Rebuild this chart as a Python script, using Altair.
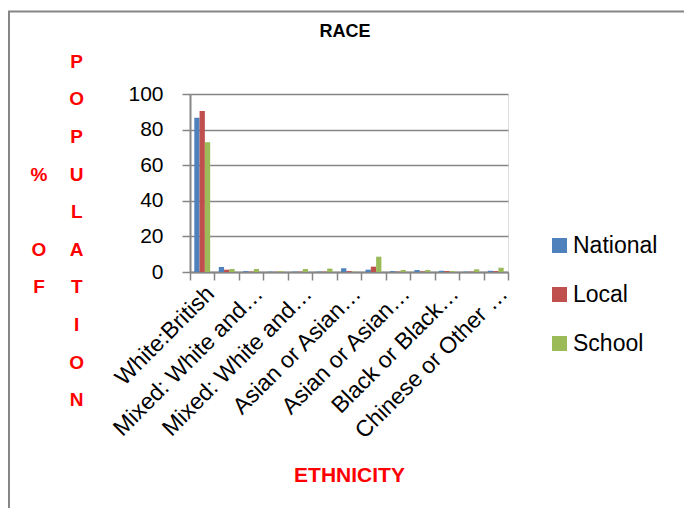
import altair as alt
import pandas as pd

categories = [
    "White:British",
    "White: Other",
    "Mixed: White and Black Caribbean",
    "Mixed: White and Black African",
    "Mixed: White and Asian",
    "Mixed: Other Mixed",
    "Asian or Asian British: Indian",
    "Asian or Asian British: Pakistani",
    "Asian or Asian British: Bangladeshi",
    "Asian or Asian British: Other Asian",
    "Black or Black British: Caribbean",
    "Black or Black British: African",
    "Chinese or Other Ethnic Group",
]
shown_labels = {
    "White:British": "White:British",
    "Mixed: White and Black Caribbean": "Mixed: White and\u2026",
    "Mixed: White and Asian": "Mixed: White and\u2026",
    "Asian or Asian British: Indian": "Asian or Asian\u2026",
    "Asian or Asian British: Bangladeshi": "Asian or Asian\u2026",
    "Black or Black British: Caribbean": "Black or Black\u2026",
    "Chinese or Other Ethnic Group": "Chinese or Other \u2026",
}
series = ["National", "Local", "School"]
national = [86.7, 2.8, 0.5, 0.2, 0.2, 0.2, 2.1, 1.3, 0.5, 1.1, 0.7, 0.2, 0.7]
local = [90.4, 1.3, 0.2, 0.1, 0.2, 0.2, 0.5, 3.0, 0.2, 0.3, 0.5, 0.2, 0.5]
school = [72.9, 1.7, 1.7, 0.5, 1.7, 1.9, 0.2, 8.6, 1.1, 1.1, 0.5, 1.5, 2.4]
colors = ["#4F81BD", "#C0504D", "#9BBB59"]
y_ticks = [0, 20, 40, 60, 80, 100]
y_title_col1 = ["", "", "", "%", "", "O", "F", "", "", ""]
y_title_col2 = ["P", "O", "P", "U", "L", "A", "T", "I", "O", "N"]

rows = []
for cat, n, l, s in zip(categories, national, local, school):
    rows.append({"Ethnicity": cat, "Series": "National", "Value": n})
    rows.append({"Ethnicity": cat, "Series": "Local", "Value": l})
    rows.append({"Ethnicity": cat, "Series": "School", "Value": s})
df = pd.DataFrame(rows)

FONT = "Liberation Sans"
GRAY = "#868686"

label_expr = " : ".join(
    [f"datum.value == '{k}' ? '{v}'" for k, v in shown_labels.items()]
) + " : ''"

bars = alt.Chart(df).mark_bar().encode(
    x=alt.X(
        "Ethnicity:N",
        sort=categories,
        scale=alt.Scale(paddingInner=0, paddingOuter=0),
        axis=alt.Axis(
            title="ETHNICITY",
            titleColor="#FF0000",
            titleFont=FONT,
            titleFontSize=21,
            titleFontWeight="bold",
            titleY=203,
            titleBaseline="middle",
            labelExpr=label_expr,
            labelAngle=-45,
            labelFont=FONT,
            labelFontSize=23,
            labelColor="#000000",
            labelPadding=2,
            labelOverlap=False,
            labelLimit=400,
            tickBand="extent",
            tickSize=8,
            tickColor=GRAY,
            tickWidth=1.5,
            domainColor=GRAY,
            domainWidth=2,
            grid=False,
        ),
    ),
    xOffset=alt.XOffset(
        "Series:N",
        sort=series,
        scale=alt.Scale(paddingInner=0, paddingOuter=0.81),
    ),
    y=alt.Y(
        "Value:Q",
        scale=alt.Scale(domain=[0, 100], nice=False),
        axis=alt.Axis(
            title=None,
            values=y_ticks,
            labelFont=FONT,
            labelFontSize=21,
            labelColor="#000000",
            labelPadding=19,
            tickSize=8,
            tickColor=GRAY,
            tickWidth=1.5,
            domainColor=GRAY,
            domainWidth=2,
            grid=True,
            gridColor=GRAY,
            gridWidth=1.7,
        ),
    ),
    color=alt.Color(
        "Series:N",
        sort=series,
        scale=alt.Scale(domain=series, range=colors),
        legend=alt.Legend(
            title=None,
            orient="none",
            legendX=358,
            legendY=140,
            symbolType="square",
            symbolSize=225,
            symbolStrokeWidth=0,
            labelFont=FONT,
            labelFontSize=23,
            labelColor="#000000",
            labelOffset=2,
            rowPadding=25,
            padding=0,
        ),
    ),
)

one = pd.DataFrame({"k": [0]})

title_text = alt.Chart(one).mark_text(
    font=FONT, fontSize=18, fontWeight="bold", color="#000000", baseline="middle", align="center"
).encode(x=alt.value(155), y=alt.value(-62), text=alt.value("RACE"))

letter_layers = []
for col_x, letters in ((-151, y_title_col1), (-113.3, y_title_col2)):
    for i, letter in enumerate(letters):
        if not letter:
            continue
        letter_layers.append(
            alt.Chart(one).mark_text(
                font=FONT, fontSize=19, fontWeight="bold", color="#FF0000",
                baseline="middle", align="center",
            ).encode(
                x=alt.value(col_x),
                y=alt.value(-32.3 + i * 37.6),
                text=alt.value(letter),
            )
        )

frame_left = alt.Chart(one).mark_rule(color=GRAY, strokeWidth=2).encode(
    x=alt.value(-181), y=alt.value(-83), y2=alt.value(420)
)
frame_top = alt.Chart(one).mark_rule(color=GRAY, strokeWidth=2).encode(
    x=alt.value(-182), x2=alt.value(520), y=alt.value(-82.5)
)

chart = alt.layer(bars, title_text, *letter_layers, frame_left, frame_top).properties(
    width=318,
    height=178,
    autosize=alt.AutoSizeParams(type="none"),
    padding={"left": 182, "top": 86, "right": 176, "bottom": 236},
).configure_view(stroke=None).configure(background="white")

chart.save("out.html", embed_options={"renderer": "svg", "actions": False})
